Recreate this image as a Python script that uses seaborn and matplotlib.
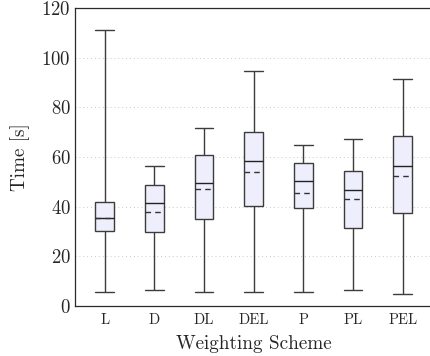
import matplotlib
matplotlib.use("Agg")
import matplotlib.pyplot as plt
import seaborn as sns
import pandas as pd
import numpy as np

schemes = ["L", "D", "DL", "DEL", "P", "PL", "PEL"]
mins    = [5.5, 6.3, 5.5, 5.5, 5.5, 6.3, 4.9]
q1s     = [30.2, 29.7, 34.9, 40.4, 39.3, 31.4, 37.6]
medians = [35.6, 41.6, 49.4, 58.3, 50.5, 46.7, 56.4]
q3s     = [41.9, 48.6, 60.7, 70.2, 57.6, 54.5, 68.6]
maxs    = [111.2, 56.4, 71.8, 94.8, 65.0, 67.1, 91.4]
means   = [35.6, 37.9, 47.0, 53.8, 45.4, 43.1, 52.5]

rows = []
for s, a, b, c, d, e in zip(schemes, mins, q1s, medians, q3s, maxs):
    for v in (a, b, c, d, e):
        rows.append({"Weighting Scheme": s, "Time [s]": v})
df = pd.DataFrame(rows)

sns.set_style("white")
plt.rcParams["font.family"] = ["cmr10", "DejaVu Serif"]
plt.rcParams["mathtext.fontset"] = "cm"
plt.rcParams["axes.formatter.use_mathtext"] = True

fig = plt.figure(figsize=(4.31, 3.56), dpi=100)
ax = fig.add_axes([75 / 431, 50 / 356, 357.4 / 431, 298 / 356])

edge = "#3c3c3c"
width = 0.38
sns.boxplot(data=df, x="Weighting Scheme", y="Time [s]", order=schemes,
            whis=(0, 100), width=width, color="#eeeefc", saturation=1,
            linecolor=edge, linewidth=1.0, ax=ax, capwidths=width,
            medianprops=dict(color="#222222", linewidth=1.0))

pos = np.arange(len(schemes))
ax.hlines(means, pos - width / 2, pos + width / 2, colors="#333333",
          linestyles=(0, (4, 3)), linewidth=1.0, zorder=5)

ax.set_xlim(-0.6, 6.6)
ax.set_ylim(0, 120)
ax.set_yticks([0, 20, 40, 60, 80, 100, 120])
ax.yaxis.grid(True, linestyle=(0, (1, 3)), color="#c8c8c8", linewidth=0.7)
ax.set_axisbelow(True)
for sp in ax.spines.values():
    sp.set_visible(True)
    sp.set_color("#2a2a2a")
    sp.set_linewidth(0.9)
ax.tick_params(axis="both", direction="in", length=4, width=0.8,
               color="#999999")
ax.tick_params(axis="y", labelsize=13.5, pad=3)
ax.tick_params(axis="x", labelsize=10.5, pad=5)
ax.set_xlabel("Weighting Scheme", fontsize=13.8, labelpad=6)
ax.set_ylabel("Time [s]", fontsize=13.8, labelpad=8)

fig.savefig("out.png", dpi=100)
